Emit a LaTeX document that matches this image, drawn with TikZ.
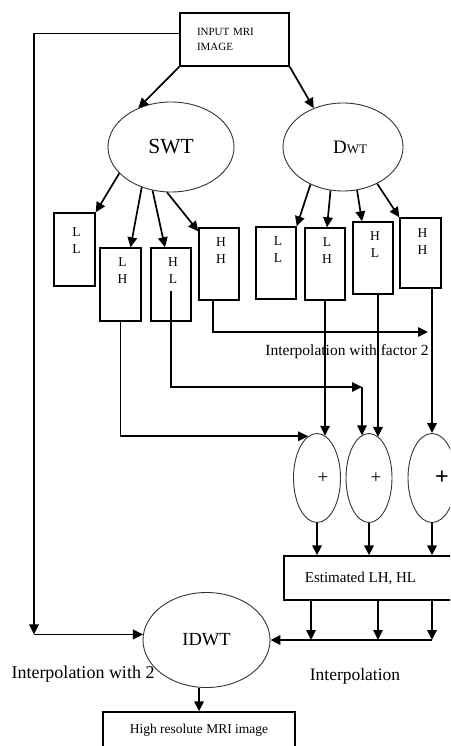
\documentclass[tikz,border=0pt]{standalone}
\usepackage{fontspec}
\setmainfont{Liberation Serif}
\usetikzlibrary{arrows.meta,calc,shapes.geometric}
\begin{document}
\begin{tikzpicture}[x=1pt,y=-1pt,
  arr/.style={-{Triangle[length=10pt,width=9.5pt]}, line width=1.7pt},
  box/.style={draw, line width=1.4pt, inner sep=0pt},
  oval/.style={draw=black!80, ellipse, line width=0.9pt, inner sep=0pt},
  lett/.style={font=\fontsize{13.5}{17}\selectfont, align=center, anchor=north, inner sep=0pt, xshift=2pt},
]
\useasboundingbox (0,0) rectangle (450,746);
\clip (0,0) rectangle (450,746);

% input
\node[box, minimum width=109pt, minimum height=53pt, text width=75pt, align=left,
      inner xsep=17pt, font=\fontsize{11}{15}\selectfont] (in) at (234.5,39.5) {INPUT MRI\\IMAGE};

% transforms
\node[oval, minimum width=126pt, minimum height=90pt, font=\fontsize{21.5}{24}\selectfont] (swt) at (171,147) {SWT};
\node[oval, minimum width=120pt, minimum height=88pt, font=\fontsize{19}{24}\selectfont] (dwt) at (343,147) {\hspace*{14pt}D{\fontsize{13}{15}\selectfont WT}};

% SWT subbands
\node[box, minimum width=41pt, minimum height=73pt, label={[lett, yshift=-15pt]north:{L\\L}}] (sll) at (74.5,249.5) {};
\node[box, minimum width=41pt, minimum height=73pt, label={[lett, yshift=-10pt]north:{L\\H}}] (slh) at (120.5,284.5) {};
\node[box, minimum width=40pt, minimum height=73pt, label={[lett, yshift=-10pt]north:{H\\L}}] (shl) at (171,284.5) {};
\node[box, minimum width=40pt, minimum height=72pt, label={[lett, yshift=-10pt]north:{H\\H}}] (shh) at (219,264) {};

% DWT subbands
\node[box, minimum width=40pt, minimum height=72pt, label={[lett, yshift=-10pt]north:{L\\L}}] (dll) at (276,263) {};
\node[box, minimum width=40pt, minimum height=72pt, label={[lett, yshift=-10pt]north:{L\\H}}] (dlh) at (325,264) {};
\node[box, minimum width=40pt, minimum height=72pt, label={[lett, yshift=-10pt]north:{H\\L}}] (dhl) at (373,258) {};
\node[box, minimum width=41pt, minimum height=70pt, label={[lett, yshift=-11pt]north:{H\\H}}] (dhh) at (420.5,253) {};

% adders
\node[oval, minimum width=47pt, minimum height=89pt, font=\fontsize{19}{20}\selectfont] (p1) at (317,478) {\hspace*{12pt}+};
\node[oval, minimum width=46pt, minimum height=89pt, font=\fontsize{19}{20}\selectfont] (p2) at (369,478) {\hspace*{14pt}+};
\node[oval, minimum width=48pt, minimum height=89pt, font=\fontsize{24}{24}\selectfont] (p3) at (432,478) {\hspace*{20pt}\textbf{+}};

% estimated
\node[box, minimum width=171pt, minimum height=44pt, font=\fontsize{15}{17}\selectfont] (est) at (369.5,578) {Estimated LH, HL\hspace*{18pt}};

% IDWT and output
\node[oval, minimum width=127pt, minimum height=95pt, font=\fontsize{18.5}{20}\selectfont] (idwt) at (206.5,640) {IDWT};
\node[box, minimum width=192pt, minimum height=36pt, font=\fontsize{13.5}{15}\selectfont] (hr) at (199,730) {High resolute MRI image};

% labels
\node[font=\fontsize{15.5}{18}\selectfont] (lab1) at (347,352) {Interpolation with factor 2};
\node[font=\fontsize{18}{20}\selectfont] (lab2) at (83,674) {Interpolation with 2};
\node[font=\fontsize{17.5}{20}\selectfont] (lab3) at (355,676) {Interpolation};

% input to transforms
\draw[arr] (in.south west) -- (swt.130);
\draw[arr] (in.south east) -- (dwt.127);

% SWT to subbands
\draw[arr] (swt.207) -- (sll.north east);
\draw[arr] (swt.234) -- ([xshift=10pt]slh.north);
\draw[arr] (swt.247) -- ([xshift=-6pt]shl.north);
\draw[arr] (swt.265) -- ([yshift=-4pt]shh.north west);

% DWT to subbands
\draw[arr] (dwt.229) -- (dll.north east);
\draw[arr] (dwt.254) -- ([xshift=2pt]dlh.north);
\draw[arr] (dwt.288) -- ([xshift=-11pt]dhl.north);
\draw[arr] (dwt.313) -- (dhh.north west);

% interpolation with factor 2
\coordinate (i2) at (428,332);
\draw[arr] ([xshift=-6pt]shh.south) |- (i2);

% SWT HL to second adder
\coordinate (c2) at (362,387);
\draw[arr] ([yshift=31pt]shl.south) |- (c2);
\draw[arr] (c2) -- (c2 |- p2.100);

% SWT LH to first adder
\draw[arr] (slh.south) |- (p1.102);

% DWT bands to adders
\draw[arr] (dlh.south) -- (dlh.south |- p1.79);
\draw[arr] ([xshift=5pt]dhl.south) -- ([xshift=5pt]dhl.south |- p2.77);
\draw[arr] (p3.north |- dhh.south) -- (p3.north);

% adders to estimated
\draw[arr] (p1.south) -- (p1.south |- est.north);
\draw[arr] (p2.south) -- (p2.south |- est.north);
\draw[arr] (p3.south) -- (p3.south |- est.north);

% estimated to IDWT
\coordinate (x1) at (311,0);
\coordinate (x2) at (378,0);
\coordinate (x3) at (432,0);
\coordinate (j1) at (idwt.east -| x1);
\coordinate (j2) at (idwt.east -| x2);
\coordinate (j3) at (idwt.east -| x3);
\draw[arr] (est.south -| x1) -- (j1);
\draw[arr] (est.south -| x2) -- (j2);
\draw[arr] (est.south -| x3) -- (j3);
\draw[arr] (j3) -- (idwt.east);

% input to IDWT (left path)
\coordinate (lft) at (34,0);
\coordinate (iw) at (idwt.175);
\coordinate (c1) at (iw -| lft);
\draw[arr] ([yshift=6pt]in.west) -| (c1);
\draw[arr] (c1) -- (iw);

% IDWT to output
\draw[arr] (hr.north |- idwt.south) -- (hr.north);
\end{tikzpicture}
\end{document}
